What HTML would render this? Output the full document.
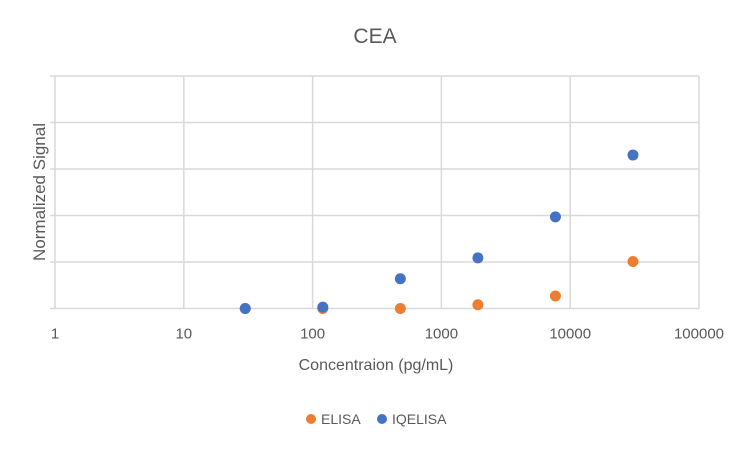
<!DOCTYPE html>
<html><head><meta charset="utf-8"><style>body{margin:0;background:#fff}svg{display:block;font-family:"Liberation Sans",Calibri,sans-serif}</style></head>
<body>
<svg id="chart" width="750" height="449">
<text x="375" y="43" text-anchor="middle" font-size="21" fill="#595959">CEA</text>
<g id="grid"></g>
<g id="marks"></g>
<text x="376" y="370" text-anchor="middle" font-size="16" fill="#595959">Concentraion (pg/mL)</text>
<text transform="translate(45,192) rotate(-90)" text-anchor="middle" font-size="17" fill="#595959">Normalized Signal</text>
<g>
<circle cx="311" cy="419" r="5" fill="#ED7D31"/>
<text x="321" y="424" font-size="14" fill="#595959">ELISA</text>
<circle cx="382" cy="419" r="5" fill="#4472C4"/>
<text x="392" y="424" font-size="14" fill="#595959">IQELISA</text>
</g>
</svg>
<script>
const xTicks=[1,10,100,1000,10000,100000];
const yTicks=[0,1,2,3,4,5];
const concentrations=[30,120,480,1920,7680,30720];
const elisa=[0,0,0,0.08,0.27,1.01];
const iqelisa=[0,0.03,0.64,1.09,1.97,3.3];
const L=55,R=699,T=76,B=308.5;
const xs=v=>L+(Math.log10(v)-0)/5*(R-L);
const ys=v=>B-v/5*(B-T);
const NS="http://www.w3.org/2000/svg";
const grid=document.getElementById('grid'),marks=document.getElementById('marks');
function mk(tag,attrs,parent){const e=document.createElementNS(NS,tag);for(const k in attrs)e.setAttribute(k,attrs[k]);parent.appendChild(e);return e;}
xTicks.forEach((t,i)=>{
 const x=xs(t);
 const l=mk('line',{x1:x,x2:x,y1:T,y2:B,stroke:'#d9d9d9','stroke-width':1.5},grid);
 
 
 const tx=mk('text',{x:x,y:B+30,'text-anchor':'middle','font-size':15,fill:'#595959'},grid);
 tx.textContent=t;
 
 
});
yTicks.forEach(t=>{
 const y=ys(t);
 const l=mk('line',{x1:L-5,x2:R,y1:y,y2:y,stroke:'#d9d9d9','stroke-width':1.5},grid);
 
 
});
function series(vals,color,name){
 vals.forEach((v,i)=>{
  const c=mk('circle',{cx:xs(concentrations[i]),cy:ys(v),r:5.5,fill:color},marks);
  
  
 });
}
series(elisa,'#ED7D31','elisa');
series(iqelisa,'#4472C4','iqelisa');
</script>
</body></html>
